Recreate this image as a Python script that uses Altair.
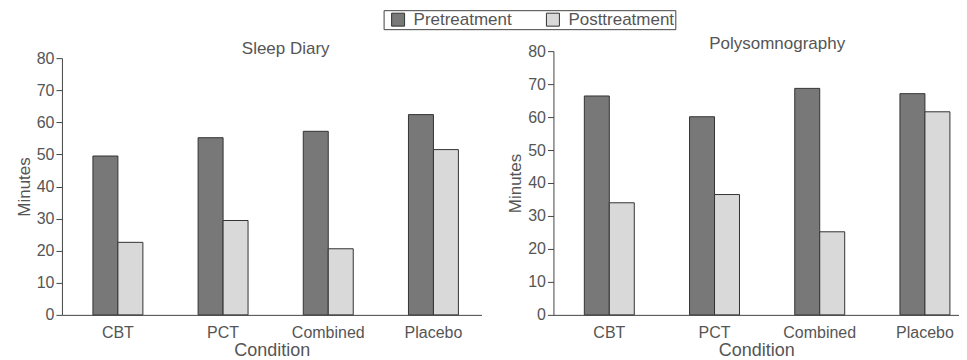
import altair as alt
import pandas as pd

conditions = ["CBT", "PCT", "Combined", "Placebo"]
phases = ["Pretreatment", "Posttreatment"]
diary_pre = [49.5, 55.2, 57.2, 62.4]
diary_post = [22.6, 29.4, 20.6, 51.5]
psg_pre = [66.4, 60.1, 68.7, 67.1]
psg_post = [34.0, 36.5, 25.2, 61.6]
y_ticks = [0, 10, 20, 30, 40, 50, 60, 70, 80]
colors = ["#787878", "#d9d9d9"]

FONT = "Liberation Sans"
TEXT = "#555555"
LINE = "#444444"


def long_df(pre, post):
    rows = []
    for c, a, b in zip(conditions, pre, post):
        rows.append({"Condition": c, "Phase": phases[0], "Minutes": a})
        rows.append({"Condition": c, "Phase": phases[1], "Minutes": b})
    return pd.DataFrame(rows)


def panel(df, title, width, pad_outer, align, yrange, dx, dy):
    return (
        alt.Chart(df)
        .mark_bar(stroke="#333333", strokeWidth=1)
        .encode(
            x=alt.X(
                "Condition:N",
                sort=conditions,
                scale=alt.Scale(paddingInner=0.525, paddingOuter=pad_outer, align=align),
                axis=alt.Axis(title="Condition", labelAngle=0, ticks=False,
                              labelPadding=10, titlePadding=1, titleFontSize=18),
            ),
            xOffset=alt.XOffset("Phase:N", sort=phases),
            y=alt.Y(
                "Minutes:Q",
                scale=alt.Scale(domain=[0, 80], range=yrange, nice=False),
                axis=alt.Axis(values=y_ticks, title="Minutes", tickSize=6,
                              labelPadding=2, titlePadding=3, titleFontSize=17),
            ),
            color=alt.Color(
                "Phase:N",
                sort=phases,
                scale=alt.Scale(domain=phases, range=colors),
                legend=alt.Legend(
                    title=None, orient="none", direction="horizontal",
                    legendX=322, legendY=-41, padding=1, symbolOffset=5,
                    strokeColor=LINE, fillColor="white", symbolType="square",
                    symbolSize=169, symbolStrokeColor="#333333", symbolStrokeWidth=1,
                    labelFontSize=17, labelColor=TEXT, labelFont=FONT,
                    labelOffset=7, columnPadding=27,
                ),
            ),
        )
        .properties(
            width=width,
            height=264,
            title=alt.TitleParams(
                title, fontSize=17, fontWeight="normal", color=TEXT, font=FONT,
                anchor="middle", frame="group", baseline="alphabetic",
                offset=0, dx=dx, dy=dy,
            ),
        )
    )


left = panel(long_df(diary_pre, diary_post), "Sleep Diary", 420, 0.257, 0.573, [264, 7], 14, 21)
right = panel(long_df(psg_pre, psg_post), "Polysomnography", 406, 0.19, 0.773, [264, 0], 21, 23)

chart = (
    alt.hconcat(left, right, spacing=72, bounds="flush")
    .properties(padding={"left": 7, "top": 1, "right": 0, "bottom": 0})
    .configure_view(stroke=None)
    .configure_axis(
        grid=False,
        domainColor=LINE,
        tickColor=LINE,
        labelColor=TEXT,
        titleColor=TEXT,
        labelFont=FONT,
        titleFont=FONT,
        labelFontSize=16,
        titleFontWeight="normal",
    )
)

chart.save("out.html", embed_options={"renderer": "svg", "actions": False})
